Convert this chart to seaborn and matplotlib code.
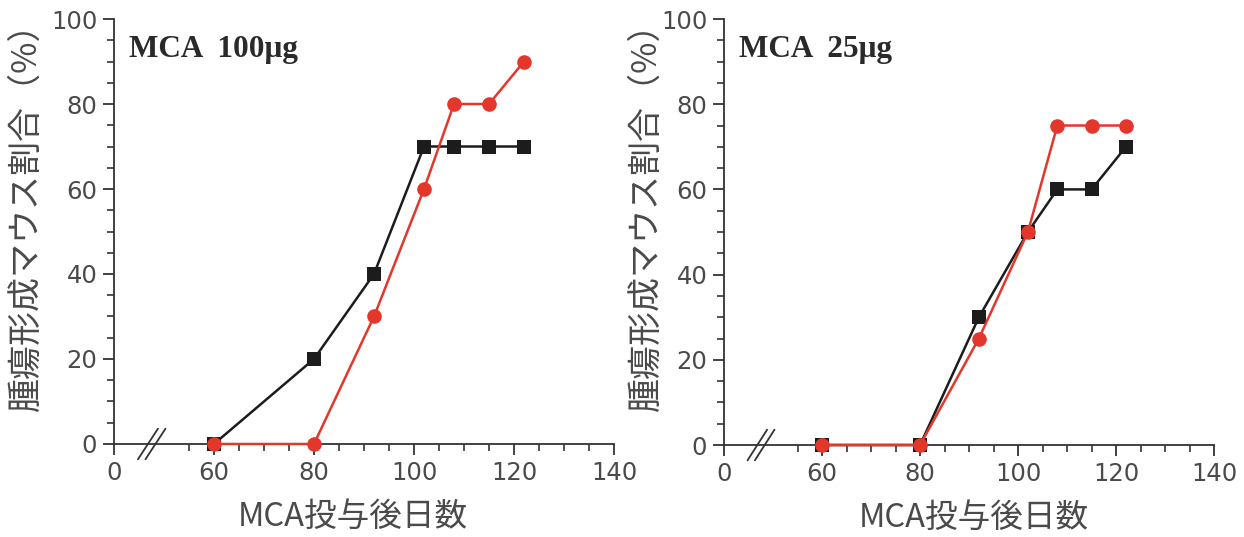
import matplotlib
matplotlib.use("Agg")
import matplotlib.pyplot as plt
import seaborn as sns
import pandas as pd
from matplotlib.ticker import FixedLocator

# ---- data ----
days = [60, 80, 92, 102, 108, 115, 122]
panel_titles = ["MCA  100μg", "MCA  25μg"]
black_100 = [0, 20, 40, 70, 70, 70, 70]
red_100 = [0, 0, 30, 60, 80, 80, 90]
black_25 = [0, 0, 30, 50, 60, 60, 70]
red_25 = [0, 0, 25, 50, 75, 75, 75]

x_tick_pos = [40, 60, 80, 100, 120, 140]
x_tick_labels = ["0", "60", "80", "100", "120", "140"]
y_ticks = [0, 20, 40, 60, 80, 100]
xlabel = "MCA投与後日数"
ylabel = "腫瘍形成マウス割合（%）"

sns.set_theme(style="white")
plt.rcParams["font.family"] = ["DejaVu Sans", "Noto Sans CJK JP"]

BLACK = "#1c1c1c"
RED = "#e3372c"
TXT = "#4a4a4a"
AX = "#333333"

fig = plt.figure(figsize=(12.44, 5.37), dpi=100)
axes = [fig.add_axes([0.0916, 0.1732, 0.402, 0.7914]),
        fig.add_axes([0.582, 0.1713, 0.394, 0.7933])]

series = [(black_100, red_100), (black_25, red_25)]
xlabel_x = [0.478, 0.51]
ylabel_x = [-0.176, -0.159]

for i, (ax, (blk, red), title) in enumerate(zip(axes, series, panel_titles)):
    df_b = pd.DataFrame({"day": days, "pct": blk})
    df_r = pd.DataFrame({"day": days, "pct": red})
    sns.lineplot(data=df_b, x="day", y="pct", ax=ax, color=BLACK, marker="s",
                 markersize=10, markeredgewidth=0, linewidth=1.8, clip_on=False, zorder=3)
    sns.lineplot(data=df_r, x="day", y="pct", ax=ax, color=RED, marker="o",
                 markersize=10.5, markeredgewidth=0, linewidth=1.8, clip_on=False, zorder=4)

    ax.set_xlim(40, 140)
    ax.set_ylim(0, 100)
    ax.set_xticks(x_tick_pos)
    ax.set_xticklabels(x_tick_labels)
    ax.xaxis.set_minor_locator(FixedLocator([55] + [v for v in range(65, 140, 5) if v % 20 != 0]))
    ax.set_yticks(y_ticks)
    ax.yaxis.set_minor_locator(FixedLocator([v for v in range(5, 100, 5) if v % 20 != 0]))

    for s in ["top", "right"]:
        ax.spines[s].set_visible(False)
    for s in ["left", "bottom"]:
        ax.spines[s].set_color(AX)
        ax.spines[s].set_linewidth(1.3)

    ax.tick_params(axis="both", which="major", direction="out", length=8, width=1.3,
                   color=AX, labelcolor=TXT, labelsize=17.5, pad=4, bottom=True, left=True)
    ax.tick_params(axis="both", which="minor", direction="out", length=5, width=1.2,
                   color=AX, bottom=True, left=True)

    ax.set_xlabel(xlabel, fontsize=23.5, color=TXT, family=["Noto Sans CJK JP"])
    ax.xaxis.label.set_va("center")
    ax.xaxis.set_label_coords(xlabel_x[i], -0.172)
    ax.set_ylabel(ylabel, fontsize=24.5, color=TXT, family=["Noto Sans CJK JP", "DejaVu Sans"])
    ax.yaxis.label.set_va("center")
    ax.yaxis.set_label_coords(ylabel_x[i], 0.555)

    ax.text(43, 91, title, fontsize=22.5, fontweight="bold", family=["Liberation Serif"],
            color="#2a2a2a", ha="left", va="baseline")

    # axis break marks
    for xb in (46.8, 48.3):
        ax.plot([xb - 2.0, xb + 2.0], [-3.6, 3.6], color=AX, linewidth=1.3,
                clip_on=False, zorder=5)

    ax.set_facecolor("white")

fig.savefig("out.png", dpi=100, facecolor="white")
